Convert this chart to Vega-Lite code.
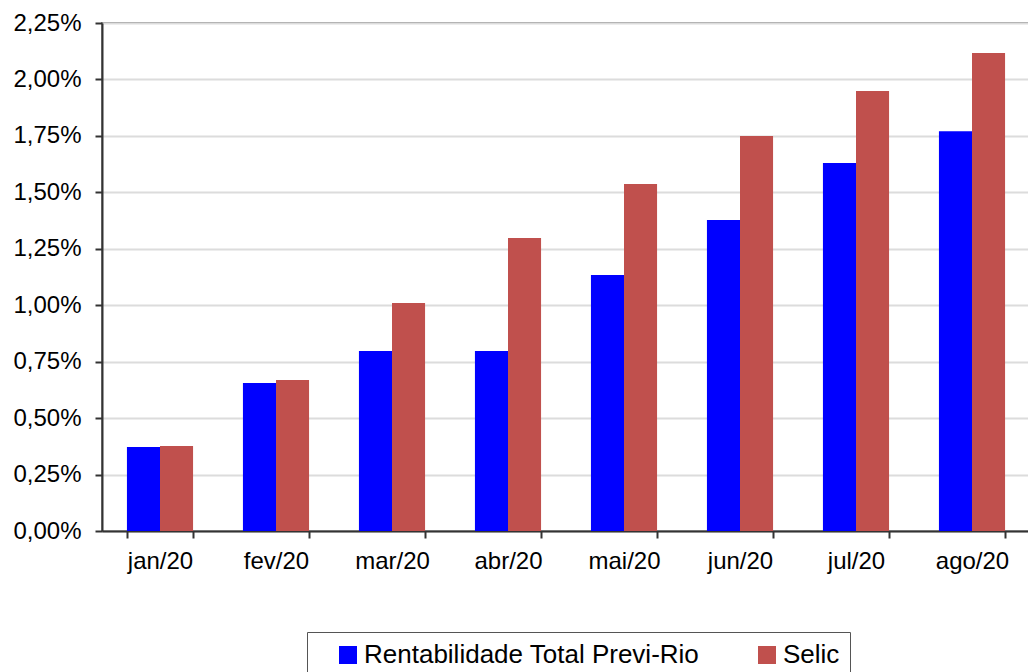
{
  "$schema": "https://vega.github.io/schema/vega-lite/v6.json",
  "width": 928,
  "height": 508,
  "autosize": {"type": "none"},
  "padding": {"left": 102, "top": 23, "right": 0, "bottom": 141},
  "config": {
    "locale": {"number": {"decimal": ",", "thousands": ".", "grouping": [3], "currency": ["R$", ""]}},
    "font": "Liberation Sans",
    "view": {"stroke": "#8c8c8c", "strokeWidth": 2}
  },
  "data": {
    "values": [
      {"mes": "jan/20", "serie": "Rentabilidade Total Previ-Rio", "valor": 0.00372},
      {"mes": "jan/20", "serie": "Selic", "valor": 0.00376},
      {"mes": "fev/20", "serie": "Rentabilidade Total Previ-Rio", "valor": 0.00655},
      {"mes": "fev/20", "serie": "Selic", "valor": 0.00669},
      {"mes": "mar/20", "serie": "Rentabilidade Total Previ-Rio", "valor": 0.00797},
      {"mes": "mar/20", "serie": "Selic", "valor": 0.0101},
      {"mes": "abr/20", "serie": "Rentabilidade Total Previ-Rio", "valor": 0.00797},
      {"mes": "abr/20", "serie": "Selic", "valor": 0.01298},
      {"mes": "mai/20", "serie": "Rentabilidade Total Previ-Rio", "valor": 0.01134},
      {"mes": "mai/20", "serie": "Selic", "valor": 0.01537},
      {"mes": "jun/20", "serie": "Rentabilidade Total Previ-Rio", "valor": 0.01377},
      {"mes": "jun/20", "serie": "Selic", "valor": 0.01749},
      {"mes": "jul/20", "serie": "Rentabilidade Total Previ-Rio", "valor": 0.0163},
      {"mes": "jul/20", "serie": "Selic", "valor": 0.01949},
      {"mes": "ago/20", "serie": "Rentabilidade Total Previ-Rio", "valor": 0.01771},
      {"mes": "ago/20", "serie": "Selic", "valor": 0.02117}
    ]
  },
  "mark": {"type": "bar"},
  "encoding": {
    "x": {
      "field": "mes",
      "type": "nominal",
      "sort": ["jan/20", "fev/20", "mar/20", "abr/20", "mai/20", "jun/20", "jul/20", "ago/20"],
      "scale": {"paddingInner": 0.43, "paddingOuter": 0.215},
      "axis": {
        "title": null,
        "labelAngle": 0,
        "labelFontSize": 24,
        "labelColor": "#000",
        "tickBand": "extent",
        "tickSize": 7,
        "tickColor": "#333",
        "tickWidth": 2,
        "domainColor": "#333",
        "domainWidth": 2,
        "labelPadding": 11,
        "grid": false
      }
    },
    "xOffset": {"field": "serie", "type": "nominal", "sort": ["Rentabilidade Total Previ-Rio", "Selic"]},
    "y": {
      "field": "valor",
      "type": "quantitative",
      "scale": {"domain": [0, 0.0225], "nice": false},
      "axis": {
        "title": null,
        "format": ".2%",
        "values": [0, 0.0025, 0.005, 0.0075, 0.01, 0.0125, 0.015, 0.0175, 0.02, 0.0225],
        "labelFontSize": 24,
        "labelColor": "#000",
        "tickSize": 7,
        "tickColor": "#333",
        "tickWidth": 2,
        "domainColor": "#333",
        "domainWidth": 2,
        "gridColor": "#dcdcdc",
        "gridWidth": 2,
        "labelPadding": 14
      }
    },
    "color": {
      "field": "serie",
      "type": "nominal",
      "scale": {"domain": ["Rentabilidade Total Previ-Rio", "Selic"], "range": ["#0000FF", "#C0504D"]},
      "legend": {
        "title": null,
        "orient": "none",
        "legendX": 205,
        "legendY": 609,
        "direction": "horizontal",
        "symbolType": "square",
        "symbolSize": 324,
        "symbolStrokeWidth": 0,
        "symbolOffset": 18,
        "labelFontSize": 26,
        "labelOffset": 3,
        "labelColor": "#000",
        "labelLimit": 500,
        "strokeColor": "#555",
        "padding": 10,
        "columnPadding": 36
      }
    }
  }
}
